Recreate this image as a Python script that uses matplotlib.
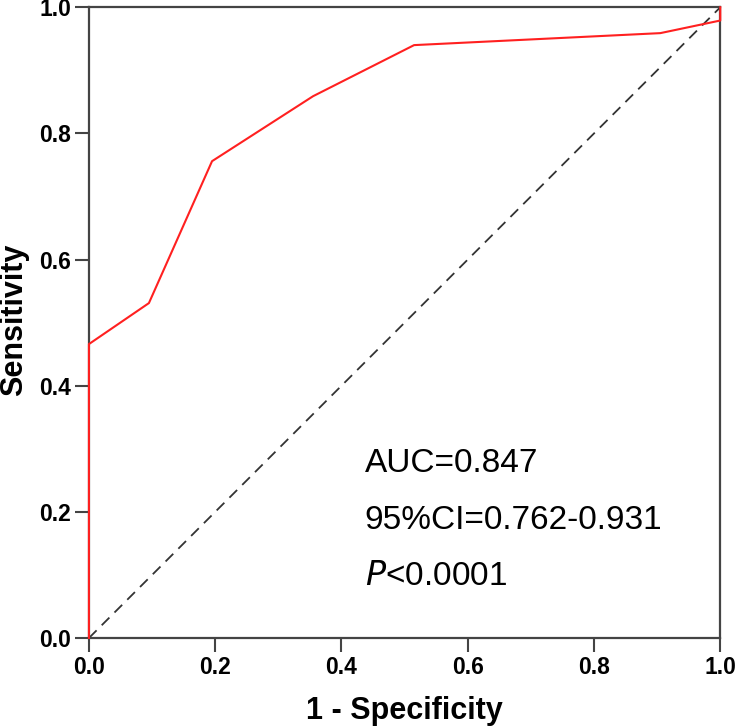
import matplotlib
matplotlib.use('Agg')
import matplotlib.pyplot as plt

plt.rcParams['font.family'] = ['Liberation Sans', 'DejaVu Sans']

# ROC curve points
fpr = [0.0, 0.0, 0.095, 0.195, 0.355, 0.515, 0.905, 1.0, 1.0]
tpr = [0.0, 0.466, 0.531, 0.756, 0.859, 0.940, 0.959, 0.979, 1.0]
ticks = [0.0, 0.2, 0.4, 0.6, 0.8, 1.0]
tick_labels = ['0.0', '0.2', '0.4', '0.6', '0.8', '1.0']

fig = plt.figure(figsize=(7.35, 7.27), dpi=100)
ax = fig.add_axes([0.121, 0.1224, 0.859, 0.8676])

ax.plot([0, 1], [0, 1], color='#333333', linestyle=(0, (6, 4)), linewidth=1.3, zorder=2)
ax.plot(fpr, tpr, color='#ff2020', linewidth=1.5, zorder=3, clip_on=False)

ax.set_xlim(0, 1)
ax.set_ylim(0, 1)
ax.set_xticks(ticks)
ax.set_yticks(ticks)
ax.set_xticklabels(tick_labels, fontsize=16.5, fontweight='bold')
ax.set_yticklabels(tick_labels, fontsize=16.5, fontweight='bold')
ax.tick_params(direction='out', length=10, width=1.5, color='#444444', pad=3)
for s in ax.spines.values():
    s.set_color('#444444')
    s.set_linewidth(1.6)

ax.set_xlabel('1 - Specificity', fontsize=22, fontweight='bold', labelpad=12)
ax.set_ylabel('Sensitivity', fontsize=22, fontweight='bold')
ax.yaxis.set_label_coords(-0.119, 0.504)
ax.yaxis.label.set_va('center')

ax.text(0.437, 0.277, 'AUC=0.847', fontsize=24, va='center', ha='left')
ax.text(0.437, 0.187, '95%CI=0.762-0.931', fontsize=24, va='center', ha='left')
ax.text(0.437, 0.097, '$\\it{P}$<0.0001', fontsize=24, va='center', ha='left')

fig.savefig('out.png', dpi=100)
